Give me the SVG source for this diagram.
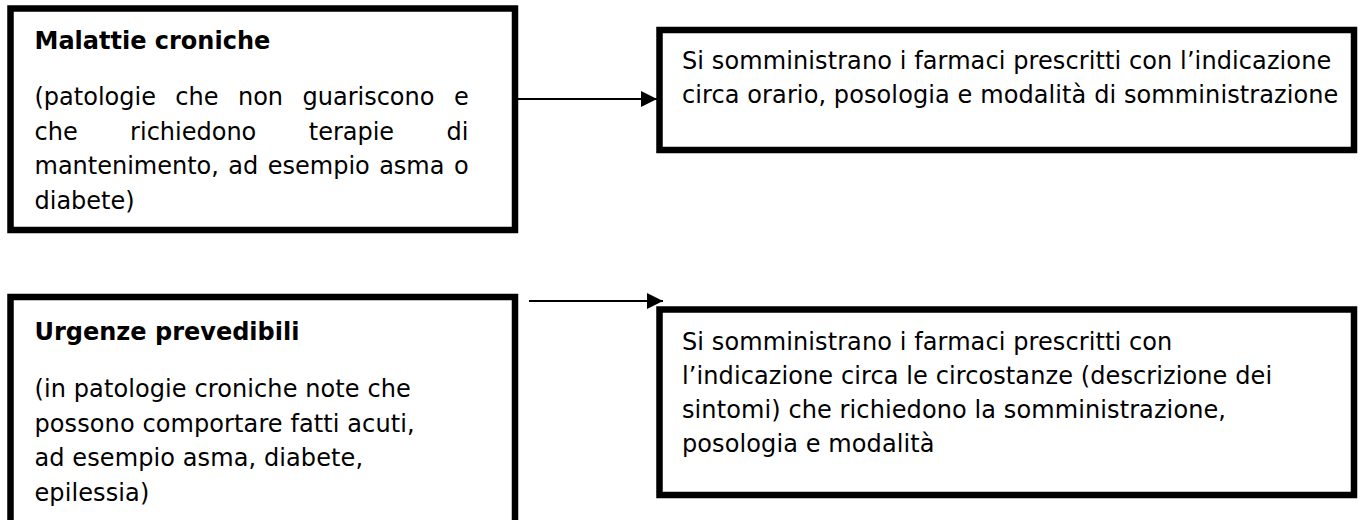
<svg xmlns="http://www.w3.org/2000/svg" width="1363" height="520" viewBox="0 0 1363 520">
<defs>
<style>
.box{fill:#fff;stroke:#000;stroke-width:6.5}
.t{font-family:"DejaVu Sans",Verdana,sans-serif;font-size:24px;fill:#000}
.b{font-weight:bold}
.r{letter-spacing:0.1px}
.c{stroke:#000;stroke-width:2;fill:none}
</style>
<marker id="ah" markerUnits="userSpaceOnUse" markerWidth="17" markerHeight="16" refX="16" refY="8" orient="auto">
<path d="M0,0 L16,8 L0,16 Z" fill="#000"/>
</marker>
</defs>
<rect width="1363" height="520" fill="#fff"/>
<g id="connectors">
<line class="c" x1="518" y1="99" x2="657" y2="99" marker-end="url(#ah)"/>
<line class="c" x1="529" y1="301" x2="663" y2="301" marker-end="url(#ah)"/>
</g>
<g id="malattie-croniche">
<rect class="box" x="10.5" y="8.5" width="504.5" height="221.5"/>
<text class="t b" x="34.5" y="48.5">Malattie croniche</text>
<text class="t" x="34.5" y="105" word-spacing="11.8">(patologie che non guariscono e</text>
<text class="t" x="34.5" y="139.5" word-spacing="44.8">che richiedono terapie di</text>
<text class="t" x="34.5" y="174" word-spacing="1.8">mantenimento, ad esempio asma o</text>
<text class="t" x="34.5" y="208.5">diabete)</text>
</g>
<g id="somministrazione-croniche">
<rect class="box" x="659.5" y="30" width="694.5" height="120"/>
<text class="t r" x="682" y="69">Si somministrano i farmaci prescritti con l’indicazione</text>
<text class="t r" x="682" y="103">circa orario, posologia e modalità di somministrazione</text>
</g>
<g id="urgenze-prevedibili">
<rect class="box" x="10.5" y="297" width="504.5" height="240"/>
<text class="t b" x="34.5" y="340">Urgenze prevedibili</text>
<text class="t r" x="34.5" y="397">(in patologie croniche note che</text>
<text class="t r" x="34.5" y="431.5">possono comportare fatti acuti,</text>
<text class="t r" x="34.5" y="466">ad esempio asma, diabete,</text>
<text class="t r" x="34.5" y="500.5">epilessia)</text>
</g>
<g id="somministrazione-urgenze">
<rect class="box" x="659.5" y="309.5" width="694.5" height="185.5"/>
<text class="t r" x="682" y="350">Si somministrano i farmaci prescritti con</text>
<text class="t r" x="682" y="384">l’indicazione circa le circostanze (descrizione dei</text>
<text class="t r" x="682" y="418">sintomi) che richiedono la somministrazione,</text>
<text class="t r" x="682" y="452">posologia e modalità</text>
</g>
</svg>
